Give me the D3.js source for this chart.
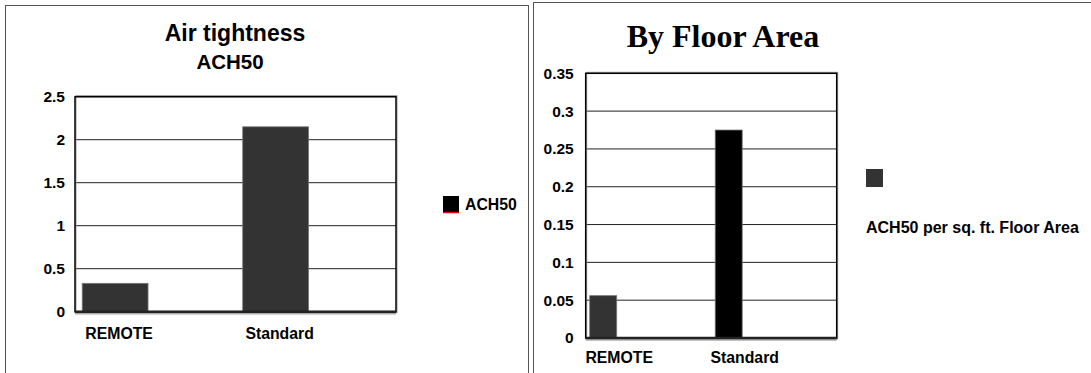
<!DOCTYPE html>
<html>
<head>
<meta charset="utf-8">
<script src="https://cdn.jsdelivr.net/npm/d3@7"></script>
<style>
  html, body { margin: 0; padding: 0; background: #fff; }
  svg { display: block; }
  text { font-family: "Liberation Sans", Arial, sans-serif; font-weight: bold; fill: #000; }
  text.serif-title { font-family: "Liberation Serif", "Times New Roman", serif; }
</style>
</head>
<body>
<svg id="chart" width="1091" height="373"></svg>
<script>
// ---- data ----
const categories = ["REMOTE", "Standard"];
const ach50Values = [0.33, 2.15];
const perAreaValues = [0.056, 0.275];
const ach50Ticks = [0, 0.5, 1, 1.5, 2, 2.5];
const ach50TickLabels = ["0", "0.5", "1", "1.5", "2", "2.5"];
const perAreaTicks = [0, 0.05, 0.1, 0.15, 0.2, 0.25, 0.3, 0.35];
const perAreaTickLabels = ["0", "0.05", "0.1", "0.15", "0.2", "0.25", "0.3", "0.35"];
const perAreaColors = ["#333333", "#000000"];

const svg = d3.select("#chart");

// panel frames
svg.append("rect").attr("x", 5.5).attr("y", 5.5).attr("width", 523).attr("height", 400)
  .attr("fill", "none").attr("stroke", "#555").attr("stroke-width", 1);
svg.append("rect").attr("x", 533.5).attr("y", 2.5).attr("width", 600).attr("height", 400)
  .attr("fill", "none").attr("stroke", "#555").attr("stroke-width", 1);

function drawPanel(cfg) {
  const g = svg.append("g");
  const x = d3.scaleBand().domain(categories).range([cfg.left, cfg.right]);
  const y = d3.scaleLinear().domain([0, cfg.max]).range([cfg.bottom, cfg.top]);
  const bw = x.bandwidth();
  const barX = c => x(c) + bw * cfg.barOffset;
  const barW = bw * cfg.barWidth;

  // plot background
  g.append("rect").attr("x", cfg.left).attr("y", cfg.top)
    .attr("width", cfg.right - cfg.left).attr("height", cfg.bottom - cfg.top)
    .attr("fill", "#fff");

  // gridlines
  g.selectAll("line.grid").data(cfg.ticks.filter(t => t > 0)).join("line")
    .attr("class", "grid")
    .attr("x1", cfg.left).attr("x2", cfg.right)
    .attr("y1", d => y(d)).attr("y2", d => y(d))
    .attr("stroke", "#222").attr("stroke-width", 1);

  // bars
  g.selectAll("rect.bar").data(cfg.values).join("rect")
    .attr("class", "bar")
    .attr("x", (d, i) => barX(categories[i]))
    .attr("width", barW)
    .attr("y", d => y(d))
    .attr("height", d => y(0) - y(d))
    .attr("fill", (d, i) => cfg.colors[i])
    .attr("stroke", "#777").attr("stroke-width", 0.8);

  // plot frame with soft shadow edge
  g.append("rect").attr("x", cfg.left + 1).attr("y", cfg.top - 1)
    .attr("width", cfg.right - cfg.left).attr("height", cfg.bottom - cfg.top + 2)
    .attr("fill", "none").attr("stroke", "#999").attr("stroke-width", 1);
  g.append("rect").attr("x", cfg.left).attr("y", cfg.top)
    .attr("width", cfg.right - cfg.left).attr("height", cfg.bottom - cfg.top)
    .attr("fill", "none").attr("stroke", "#000").attr("stroke-width", 1.5);

  // baseline
  g.append("line").attr("x1", cfg.left).attr("x2", cfg.right)
    .attr("y1", y(0) + 2).attr("y2", y(0) + 2)
    .attr("stroke", "#aaa").attr("stroke-width", 1.5);
  g.append("line").attr("x1", cfg.left).attr("x2", cfg.right)
    .attr("y1", y(0)).attr("y2", y(0))
    .attr("stroke", "#222").attr("stroke-width", 2.5);

  // y axis labels
  const axis = d3.axisLeft(y).tickValues(cfg.ticks).tickSize(0).tickPadding(cfg.tickPad)
    .tickFormat((d, i) => cfg.tickLabels[i]);
  const ax = g.append("g").attr("transform", `translate(${cfg.left},0)`).call(axis);
  ax.select(".domain").remove();
  ax.selectAll("text").style("font-size", "15.5px").style("fill", "#000");

  // category labels
  g.selectAll("text.cat").data(categories).join("text")
    .attr("class", "cat")
    .attr("x", c => barX(c) + barW / 2 + cfg.labelShift)
    .attr("y", cfg.labelY)
    .attr("text-anchor", "middle")
    .style("font-size", "15.8px")
    .text(c => c);
  return g;
}

// left panel: ACH50
drawPanel({
  left: 75, right: 396, top: 96.7, bottom: 311.7, max: 2.5,
  ticks: ach50Ticks, tickLabels: ach50TickLabels, tickPad: 10,
  values: ach50Values, colors: ["#333333", "#333333"],
  barOffset: 0.045, barWidth: 0.41, labelShift: 4, labelY: 339
});
svg.append("text").attr("x", 235).attr("y", 41).attr("text-anchor", "middle")
  .style("font-size", "23px").text("Air tightness");
svg.append("text").attr("x", 230).attr("y", 69).attr("text-anchor", "middle")
  .style("font-size", "20.5px").text("ACH50");

// left legend
svg.append("rect").attr("x", 443).attr("y", 196).attr("width", 16).attr("height", 16).attr("fill", "#000");
svg.append("line").attr("x1", 443).attr("x2", 459).attr("y1", 212.5).attr("y2", 212.5)
  .attr("stroke", "#e00").attr("stroke-width", 1.5);
svg.append("text").attr("x", 465).attr("y", 210).style("font-size", "15.8px").text("ACH50");

// right panel: per floor area
drawPanel({
  left: 585.7, right: 836.7, top: 73.3, bottom: 338, max: 0.35,
  ticks: perAreaTicks, tickLabels: perAreaTickLabels, tickPad: 12,
  values: perAreaValues, colors: perAreaColors,
  barOffset: 0.032, barWidth: 0.215, labelShift: 16, labelY: 363
});
svg.append("text").attr("class", "serif-title").attr("x", 723).attr("y", 47).attr("text-anchor", "middle")
  .style("font-size", "32px").text("By Floor Area");

// right legend
svg.append("rect").attr("x", 866).attr("y", 169).attr("width", 17).attr("height", 18).attr("fill", "#333");
svg.append("text").attr("x", 866).attr("y", 233).style("font-size", "16px").text("ACH50 per sq. ft. Floor Area");
</script>
</body>
</html>
